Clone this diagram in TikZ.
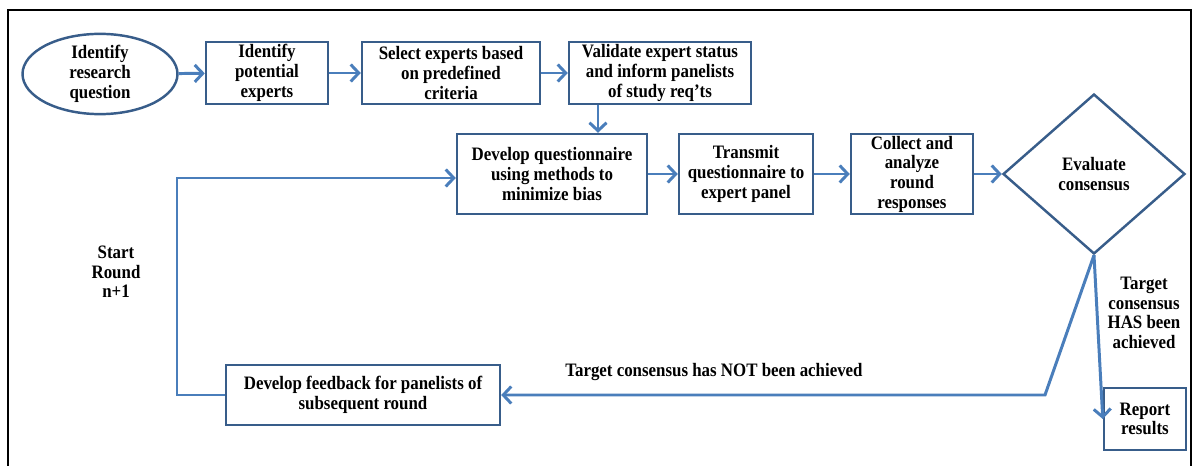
\documentclass[tikz,border=0pt]{standalone}
\usepackage{fontspec}
\setmainfont{Liberation Serif}[FakeStretch=0.89]
\usetikzlibrary{arrows.meta,positioning,shapes.geometric}

\definecolor{lineblue}{HTML}{4A7EBB}
\definecolor{boxblue}{HTML}{385D8A}

\begin{document}
\begin{tikzpicture}[
    x=0.02cm, y=-0.02cm,
    font=\fontsize{10.8}{11.2}\selectfont\bfseries,
    box/.style={draw=boxblue, line width=1.4pt, align=center, inner sep=0pt, minimum height=1.24cm},
    oval/.style={ellipse, draw=boxblue, line width=1.4pt, align=center, inner sep=0pt, minimum width=3.1cm, minimum height=1.6cm},
    decide/.style={diamond, draw=boxblue, line width=1.4pt, align=center, inner sep=0pt, minimum width=3.64cm, minimum height=3.2cm},
    arr/.style={-{Straight Barb[length=1.6mm, width=3.4mm]}, lineblue, line width=1.7pt},
    lbl/.style={align=center, inner sep=0pt},
]
  \useasboundingbox (0,0) rectangle (1198,466);
  \draw[line width=1.1pt] (8,480) -- (8,10) -- (1191,10) -- (1191,480);

  % first row
  \node[oval] (rq)  at (100,74)  {Identify\\research\\question};
  \node[box, minimum width=2.44cm] (pot) at (267,73) {Identify\\potential\\experts};
  \node[box, minimum width=3.56cm] (sel) at (451,73) {Select experts based\\on predefined\\criteria};
  \node[box, minimum width=3.64cm] (val) at (660,73) {Validate expert status\\and inform panelists\\of study req'ts};

  % second row
  \node[box, minimum width=3.8cm, minimum height=1.6cm] (dev) at (552,174) {Develop questionnaire\\using methods to\\minimize bias};
  \node[box, minimum width=2.68cm, minimum height=1.6cm] (trans) at (746,174) {Transmit\\questionnaire to\\expert panel};
  \node[box, minimum width=2.44cm, minimum height=1.6cm] (coll) at (912,174) {Collect and\\analyze\\round\\responses};
  \node[decide] (eval) at (1094,174) {Evaluate\\consensus};

  % bottom row
  \node[box, minimum width=5.48cm, minimum height=1.2cm] (fb) at (363,395) {Develop feedback for panelists of\\subsequent round};
  \node[box, minimum width=1.64cm] (rep) at (1145,419) {Report\\results};

  % labels
  \node[lbl] (start) at (116,272) {Start\\Round\\n+1};
  \node[lbl] (notok) at (714,372) {Target consensus has NOT been achieved};
  \node[lbl] (isok)  at (1144,313) {Target\\consensus\\HAS been\\achieved};

  \coordinate (vd)   at (598,104);
  \coordinate (loop) at (177,178);
  \coordinate (bend) at (1045,395);

  \draw[arr] (rq) -- (pot);
  \draw[arr] (pot) -- (sel);
  \draw[arr] (sel) -- (val);
  \draw[arr] (vd |- val.south) -- (vd |- dev.north);
  \draw[arr] (dev) -- (trans);
  \draw[arr] (trans) -- (coll);
  \draw[arr] (coll) -- (eval);
  \draw[arr] (eval.south) -- (bend) -- (fb.east);
  \draw[arr] (eval.south) -- (rep.west);
  \draw[arr] (fb.west) -| (loop) -- (loop -| dev.west);
\end{tikzpicture}
\end{document}
